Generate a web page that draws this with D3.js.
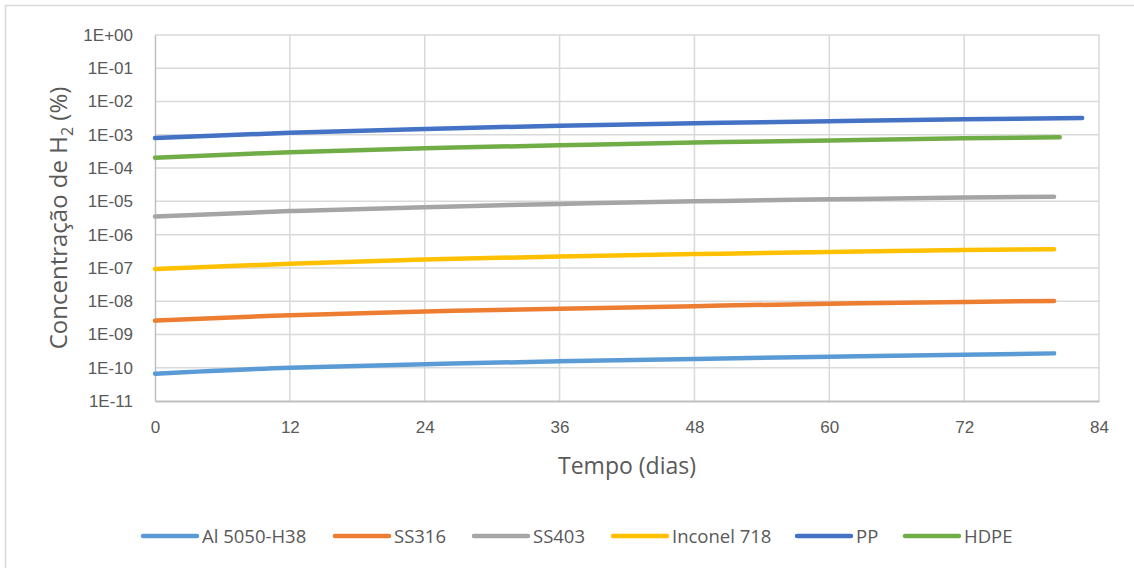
<!DOCTYPE html>
<html>
<head>
<meta charset="utf-8">
<script src="https://cdn.jsdelivr.net/npm/d3@7"></script>
<style>
  html, body { margin: 0; padding: 0; background: #fff; }
  svg { display: block; font-family: "Open Sans", "Liberation Sans", sans-serif; }
</style>
</head>
<body>
<svg id="chart" width="1134" height="568"></svg>
<script>
// Hydrogen concentration (%) over time (days) for each material
const days      = [0, 12, 24, 36, 48, 60, 72, 80];
const daysHDPE  = [0, 12, 24, 36, 48, 60, 72, 80.5];
const daysPP    = [0, 12, 24, 36, 48, 60, 72, 82.5];

const al5050 = [6.6e-11, 1.0e-10, 1.27e-10, 1.57e-10, 1.84e-10, 2.14e-10, 2.45e-10, 2.7e-10];
const ss316  = [2.6e-9, 3.8e-9, 4.9e-9, 5.95e-9, 7.1e-9, 8.4e-9, 9.5e-9, 1.02e-8];
const ss403  = [3.5e-6, 5.1e-6, 6.7e-6, 8.4e-6, 1.0e-5, 1.15e-5, 1.3e-5, 1.38e-5];
const inconel718 = [9.3e-8, 1.33e-7, 1.78e-7, 2.2e-7, 2.6e-7, 3.02e-7, 3.45e-7, 3.65e-7];
const pp     = [8.0e-4, 1.15e-3, 1.5e-3, 1.88e-3, 2.22e-3, 2.56e-3, 2.93e-3, 3.2e-3];
const hdpe   = [2.05e-4, 3.0e-4, 3.95e-4, 4.85e-4, 5.85e-4, 6.8e-4, 7.9e-4, 8.5e-4];

const seriesNames = ["Al 5050-H38", "SS316", "SS403", "Inconel 718", "PP", "HDPE"];
const seriesColors = ["#5B9BD5", "#ED7D31", "#A5A5A5", "#FFC000", "#4472C4", "#70AD47"];

const xTicks = [0, 12, 24, 36, 48, 60, 72, 84];
const yTickExps = [0, -1, -2, -3, -4, -5, -6, -7, -8, -9, -10, -11];

const series = [
  { name: seriesNames[0], color: seriesColors[0], x: days, y: al5050 },
  { name: seriesNames[1], color: seriesColors[1], x: days, y: ss316 },
  { name: seriesNames[2], color: seriesColors[2], x: days, y: ss403 },
  { name: seriesNames[3], color: seriesColors[3], x: days, y: inconel718 },
  { name: seriesNames[4], color: seriesColors[4], x: daysPP, y: pp },
  { name: seriesNames[5], color: seriesColors[5], x: daysHDPE, y: hdpe }
];

const svg = d3.select("#chart");
const plot = { left: 155, right: 1099, top: 35, bottom: 401 };

// outer chart frame
svg.append("rect")
  .attr("x", 5.5).attr("y", 5.5)
  .attr("width", 1300).attr("height", 700)
  .attr("fill", "none").attr("stroke", "#d9d9d9").attr("stroke-width", 1.5);

const x = d3.scaleLinear().domain([0, 84]).range([plot.left, plot.right]);
const y = d3.scaleLog().domain([1e-11, 1]).range([plot.bottom, plot.top]);

// gridlines
const grid = svg.append("g");
grid.selectAll("line.h").data(yTickExps.filter(e => e !== -11)).join("line")
  .attr("x1", plot.left).attr("x2", plot.right)
  .attr("y1", e => y(Math.pow(10, e))).attr("y2", e => y(Math.pow(10, e)))
  .attr("stroke", "#d9d9d9").attr("stroke-width", 1.5);
grid.selectAll("line.v").data(xTicks.filter(t => t !== 0)).join("line")
  .attr("x1", t => x(t)).attr("x2", t => x(t))
  .attr("y1", plot.top).attr("y2", plot.bottom)
  .attr("stroke", "#d9d9d9").attr("stroke-width", 1.5);

// axes
const yAxis = d3.axisLeft(y)
  .tickValues(yTickExps.map(e => Math.pow(10, e)))
  .tickFormat(v => {
    const e = Math.round(Math.log10(v));
    const sign = e < 0 ? "-" : "+";
    return "1E" + sign + String(Math.abs(e)).padStart(2, "0");
  })
  .tickSize(0).tickPadding(22);
const gy = svg.append("g").attr("transform", `translate(${plot.left},0)`).call(yAxis);
gy.select(".domain").attr("stroke", "#bfbfbf").attr("stroke-width", 1.5);
gy.selectAll("text").attr("fill", "#595959").attr("font-size", 17);

const xAxis = d3.axisBottom(x).tickValues(xTicks).tickSize(0).tickPadding(20);
const gx = svg.append("g").attr("transform", `translate(0,${plot.bottom})`).call(xAxis);
gx.select(".domain").attr("stroke", "#bfbfbf").attr("stroke-width", 2);
gx.selectAll("text").attr("fill", "#595959").attr("font-size", 17);

// axis titles
svg.append("text")
  .attr("x", (plot.left + plot.right) / 2 + 0).attr("y", 474)
  .attr("text-anchor", "middle").attr("fill", "#595959").attr("font-size", 23)
  .text("Tempo (dias)");

const yTitle = svg.append("text")
  .attr("transform", `translate(67,${(plot.top + plot.bottom) / 2}) rotate(-90)`)
  .attr("text-anchor", "middle").attr("fill", "#595959").attr("font-size", 24);
yTitle.append("tspan").text("Concentração de H");
yTitle.append("tspan").attr("font-size", 16).attr("dy", 6).text("2");
yTitle.append("tspan").attr("dy", -6).text(" (%)");

// series lines
const line = d3.line().curve(d3.curveNatural);
svg.append("g").selectAll("path").data(series).join("path")
  .attr("d", s => line(s.x.map((d, i) => [x(d), y(s.y[i])])))
  .attr("fill", "none")
  .attr("stroke", s => s.color)
  .attr("stroke-width", 4.5)
  .attr("stroke-linecap", "round");

// legend
const legendX = [143, 335, 474, 613, 797, 905];
const legendY = 536;
const lg = svg.append("g").selectAll("g").data(series).join("g")
  .attr("transform", (s, i) => `translate(${legendX[i]},${legendY})`);
lg.append("line")
  .attr("x1", 0).attr("x2", 54)
  .attr("stroke", s => s.color).attr("stroke-width", 4.5).attr("stroke-linecap", "round");
lg.append("text")
  .attr("x", 59).attr("y", 7)
  .attr("fill", "#595959").attr("font-size", 18.5)
  .text(s => s.name);
</script>
</body>
</html>
